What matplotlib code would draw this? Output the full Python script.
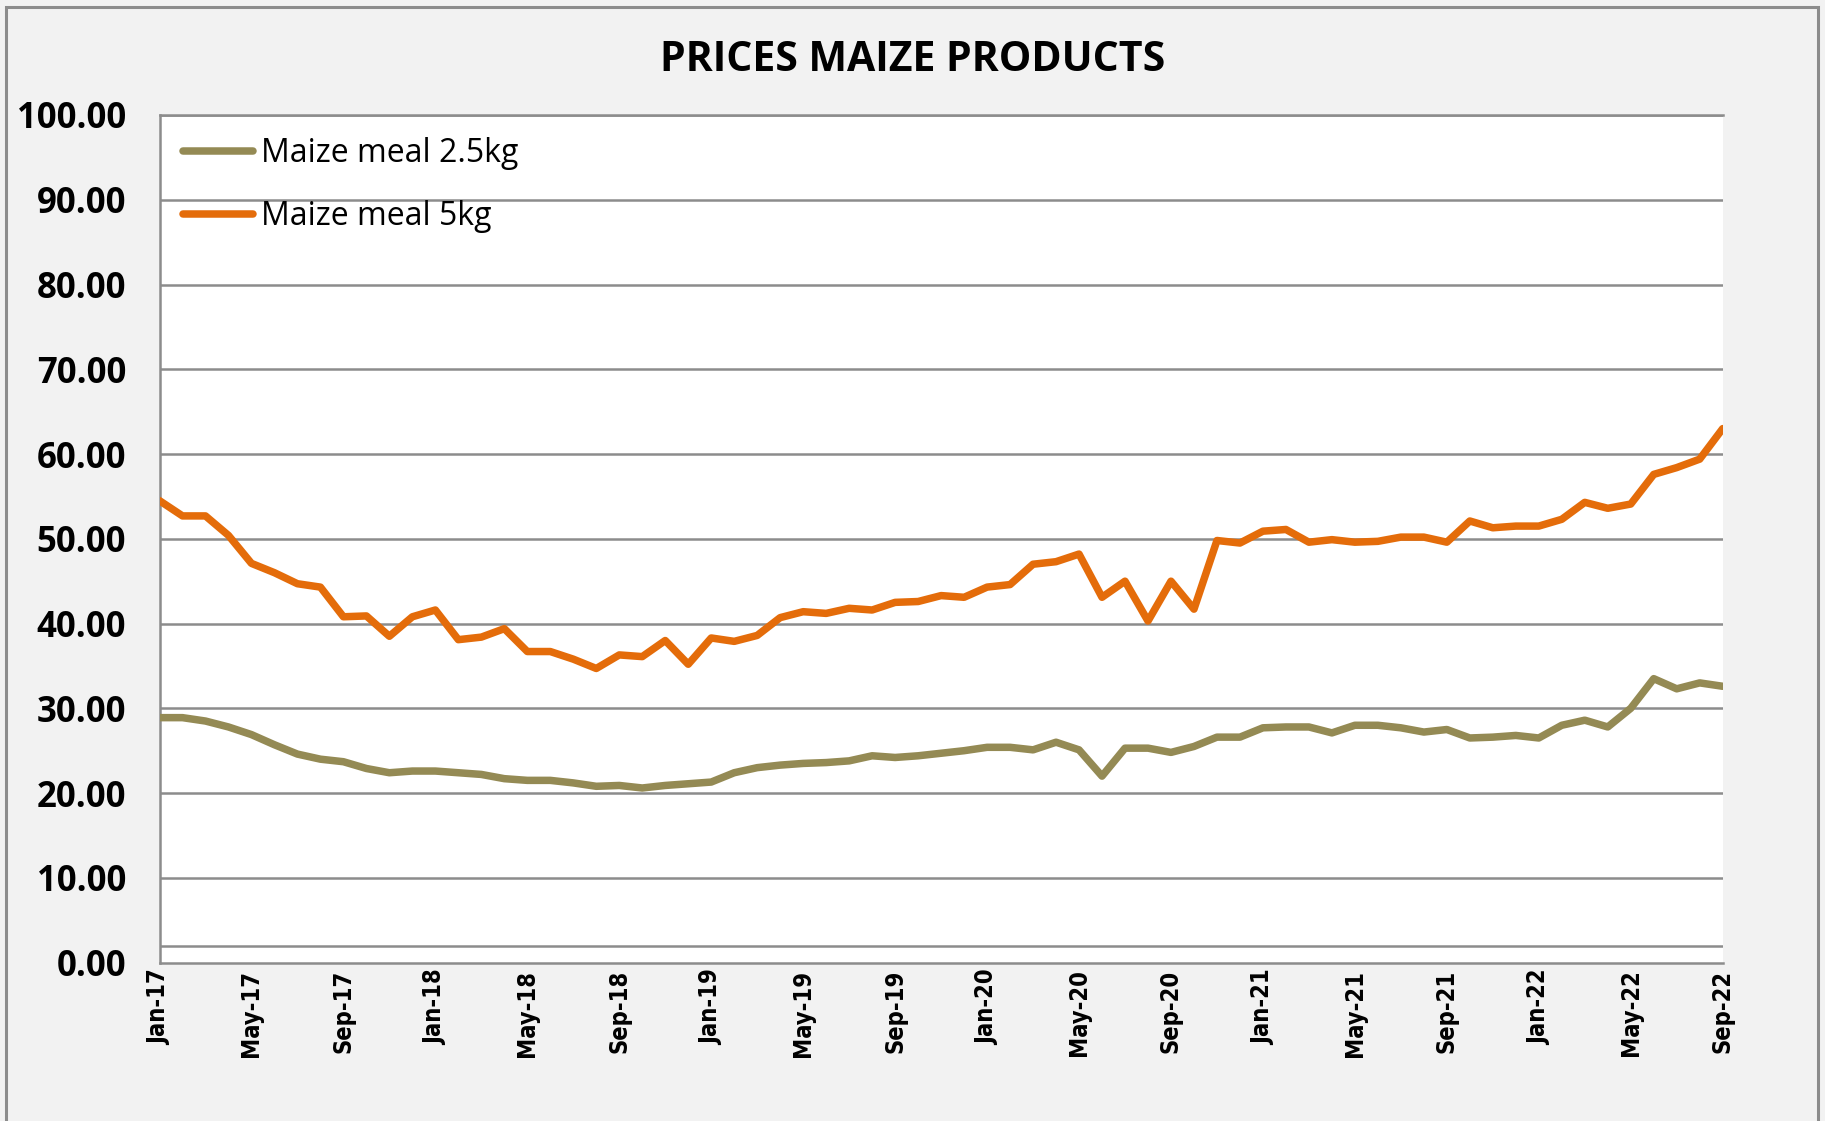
import matplotlib
matplotlib.use("Agg")
import matplotlib.pyplot as plt
import numpy as np
from matplotlib.patches import Rectangle
from matplotlib import font_manager

months = ["Jan", "Feb", "Mar", "Apr", "May", "Jun", "Jul", "Aug", "Sep", "Oct", "Nov", "Dec"]
categories = [f"{m}-{y}" for y in range(17, 23) for m in months][:69]  # Jan-17 .. Sep-22

maize_25kg = [28.9, 28.9, 28.5, 27.8, 26.9, 25.7, 24.6, 24.0, 23.7, 22.9, 22.4, 22.6,
              22.6, 22.4, 22.2, 21.7, 21.5, 21.5, 21.2, 20.8, 20.9, 20.6, 20.9, 21.1,
              21.3, 22.4, 23.0, 23.3, 23.5, 23.6, 23.8, 24.4, 24.2, 24.4, 24.7, 25.0,
              25.4, 25.4, 25.1, 26.0, 25.1, 22.0, 25.3, 25.3, 24.8, 25.5, 26.6, 26.6,
              27.7, 27.8, 27.8, 27.1, 28.0, 28.0, 27.7, 27.2, 27.5, 26.5, 26.6, 26.8,
              26.5, 28.0, 28.6, 27.8, 30.0, 33.5, 32.3, 33.0, 32.6]

maize_5kg = [54.5, 52.7, 52.7, 50.4, 47.1, 46.0, 44.7, 44.3, 40.8, 40.9, 38.5, 40.8,
             41.6, 38.1, 38.4, 39.4, 36.7, 36.7, 35.8, 34.7, 36.3, 36.1, 38.0, 35.2,
             38.3, 37.9, 38.6, 40.7, 41.4, 41.2, 41.8, 41.6, 42.5, 42.6, 43.3, 43.1,
             44.3, 44.6, 47.0, 47.3, 48.2, 43.1, 45.0, 40.3, 45.0, 41.7, 49.8, 49.5,
             50.9, 51.1, 49.6, 49.9, 49.6, 49.7, 50.2, 50.2, 49.6, 52.1, 51.3, 51.5,
             51.5, 52.3, 54.3, 53.6, 54.1, 57.6, 58.4, 59.4, 63.0]

series_names = ["Maize meal 2.5kg", "Maize meal 5kg"]
series_colors = ["#948A54", "#E46C0A"]

xtick_labels = categories[::4]
ytick_values = [0, 10, 20, 30, 40, 50, 60, 70, 80, 90, 100]

# x tick font: prefer a condensed bold sans if available
names = {f.name for f in font_manager.fontManager.ttflist}
if "DejaVu Sans Condensed" in names:
    xfont = dict(family="DejaVu Sans Condensed", weight="bold", size=18)
else:
    xfont = dict(family="DejaVu Sans", weight="bold", stretch="condensed", size=17)

W, H = 1825, 1121
fig = plt.figure(figsize=(W / 100, H / 100), dpi=100, facecolor="#F2F2F2")

# outer chart border
fig.patches.append(Rectangle((6 / W, -0.05), (1818 - 6) / W, 1 - 7 / H + 0.05,
                             transform=fig.transFigure, fill=False,
                             edgecolor="#8C8C8C", linewidth=2.2, zorder=0))

left, right = 159.5 / W, 1722.7 / W
top, bottom = 1 - 115 / H, 1 - 962.6 / H
ax = fig.add_axes([left, bottom, right - left, top - bottom])
ax.set_facecolor("white")

x = np.arange(len(categories))
for vals, name, col in zip([maize_25kg, maize_5kg], series_names, series_colors):
    ax.plot(x, vals, color=col, lw=5.4, label=name, solid_joinstyle="round",
            solid_capstyle="round", zorder=3)

ax.set_xlim(0, len(categories) - 1)
ax.set_ylim(0, 100)

grid_col = "#8C8C8C"
for v in ytick_values[1:]:
    ax.axhline(v, color=grid_col, lw=1.8, zorder=1)
ax.axhline(2.0, color=grid_col, lw=1.8, zorder=1)

ax.spines["right"].set_visible(False)
for s in ["left", "bottom", "top"]:
    ax.spines[s].set_color(grid_col)
    ax.spines[s].set_linewidth(1.8)

ax.set_yticks(ytick_values)
ax.set_yticklabels([f"{v:.2f}" for v in ytick_values],
                   fontfamily="Open Sans", fontweight="bold", fontsize=25)
ax.tick_params(axis="y", length=0, pad=24)

ax.set_xticks(x[::4])
ax.set_xticklabels(xtick_labels, rotation=90, fontfamily=xfont["family"],
                   fontweight=xfont["weight"], fontsize=xfont["size"],
                   fontstretch=xfont.get("stretch", "normal"), va="top", ha="center")
ax.tick_params(axis="x", length=0, pad=5)

fig.text(913 / W, 1 - 60.5 / H, "PRICES MAIZE PRODUCTS", ha="center", va="center",
         fontfamily="Open Sans", fontweight="bold", fontsize=29.5)

leg = ax.legend(loc="upper left", bbox_to_anchor=(183 / W, 1 - 137 / H),
                bbox_transform=fig.transFigure, frameon=False,
                prop={"family": "Open Sans", "size": 23},
                handlelength=2.2, handletextpad=0.25, labelspacing=0.95,
                borderpad=0, borderaxespad=0)

fig.savefig("out.png", dpi=100, facecolor=fig.get_facecolor())
